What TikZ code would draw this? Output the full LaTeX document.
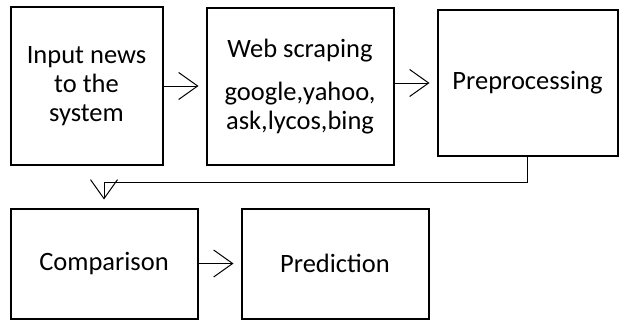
\documentclass[tikz,border=0pt]{standalone}
\usepackage{fontspec}
\setmainfont{Carlito}
\usepackage{tikz}
\usetikzlibrary{arrows.meta}

\tikzset{
  stage/.style={draw, line width=2pt, inner sep=0pt, align=center,
    font=\fontsize{26.5}{29}\selectfont},
  flow/.style={line width=1pt, -{Straight Barb[length=19pt,width=27pt,line width=1pt]}, shorten >=7pt}
}

\begin{document}
\begin{tikzpicture}[x=1pt,y=-1pt]
\useasboundingbox (0,0) rectangle (620,321);
% top row
\node[stage, minimum width=152pt, minimum height=157pt] (input) at (86.5,86) {Input news\\to the\\system};
\node[stage, minimum width=187pt, minimum height=156pt] (scrape) at (300,86.5) {Web scraping\\[14pt]google,yahoo,\\ask,lycos,bing};
\node[stage, minimum width=180pt, minimum height=145pt] (prep) at (527.5,83) {Preprocessing};
% bottom row
\node[stage, minimum width=187pt, minimum height=110pt] (comp) at (104,263.5) {Comparison};
\node[stage, minimum width=187pt, minimum height=110pt] (pred) at (335,263.5) {Prediction};
% connectors
\draw[flow] (input.east) -- (input.east -| scrape.west);
\draw[flow] (scrape.east |- prep) -- (prep.west);
\draw[flow, shorten >=8pt] (prep.south) -- ++(0,26) -| (comp.north);
\draw[flow] (comp.east) -- (pred.west);
\end{tikzpicture}
\end{document}
